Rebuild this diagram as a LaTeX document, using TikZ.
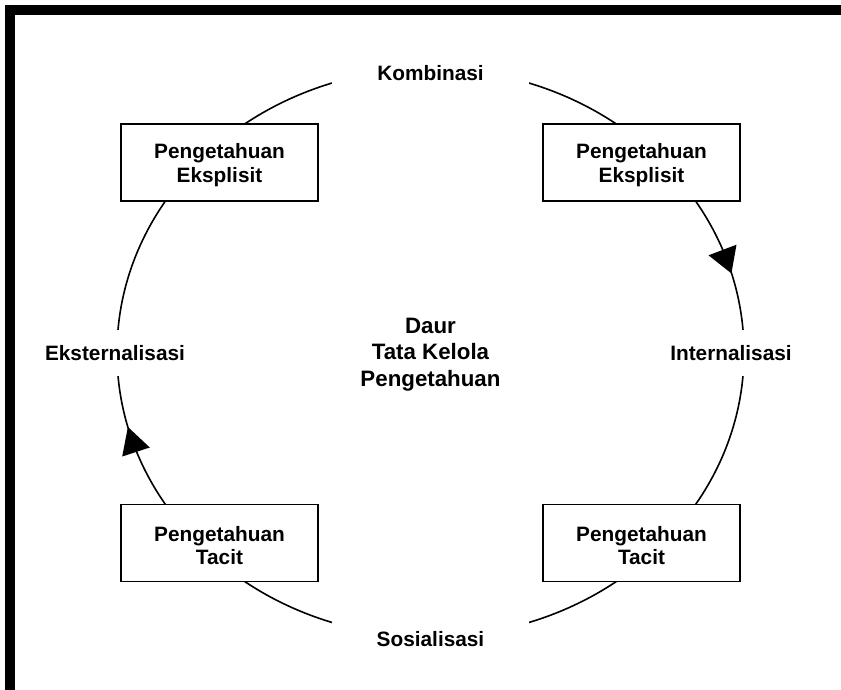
\documentclass[tikz,border=0pt]{standalone}
\usepackage{fontspec}
\setmainfont{Liberation Sans}
\begin{document}
\begin{tikzpicture}[x=1pt,y=-1pt,
  kbox/.style={draw=black, line width=1.7pt, fill=white, minimum width=197pt, minimum height=77pt, inner sep=0pt},
  ktext/.style={align=center, inner sep=0pt, yshift=-2.5pt, font=\bfseries\fontsize{20.8}{23.5}\selectfont},
  stage/.style={fill=white, inner sep=0pt, align=center, font=\bfseries\fontsize{20.8}{24}\selectfont},
  ring/.style={line width=1.6pt, draw=black},
  head/.style={fill=black},
  frame/.style={fill=black}]
\useasboundingbox (0,0) rectangle (841,690);
\fill[white] (0,0) rectangle (841,690);
\fill[frame] (5,5) rectangle (841,15);
\fill[frame] (5,5) rectangle (15,690);
% cycle
\coordinate (c) at (430.5,352.75);
\draw[ring] (c) ellipse [x radius=313.5pt, y radius=284pt];
% arrowheads (clockwise flow)
\fill[head] (731.4,273.4) -- (736.5,244.7) -- (708.5,255.3) -- cycle;
\fill[head] (127.9,427) -- (149.8,447.5) -- (122.2,456.5) -- cycle;
% stage labels
\node[stage, minimum width=197pt, minimum height=42pt] (komb) at (430.5,73) {Kombinasi};
\node[stage, minimum width=164pt, minimum height=46pt] (intern) at (731,353) {Internalisasi};
\node[stage, minimum width=197pt, minimum height=42pt] (sosial) at (430.5,639) {Sosialisasi};
\node[stage, minimum width=190pt, minimum height=46pt] (ekst) at (115,353) {Eksternalisasi};
% knowledge boxes
\node[kbox, label={[ktext]center:{Pengetahuan\\Eksplisit}}] (e1) at (219.5,162.5) {};
\node[kbox, label={[ktext]center:{Pengetahuan\\Eksplisit}}] (e2) at (641.5,162.5) {};
\node[kbox, label={[ktext]center:{Pengetahuan\\Tacit}}] (t1) at (641.5,543) {};
\node[kbox, label={[ktext]center:{Pengetahuan\\Tacit}}] (t2) at (219.5,543) {};
% title
\node[align=center, font=\bfseries\fontsize{22.3}{26.5}\selectfont] (title) at (430.5,354.5) {Daur\\Tata Kelola\\Pengetahuan};
\end{tikzpicture}
\end{document}
